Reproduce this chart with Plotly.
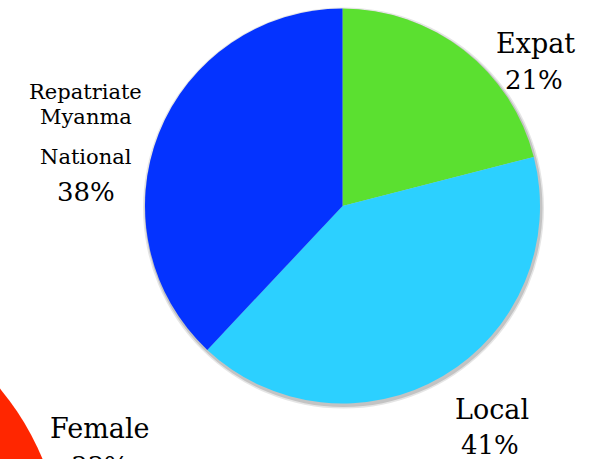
import plotly.graph_objects as go

W, H = 598, 459

labels = ["Expat", "Local", "Repatriate Myanma National"]
values = [21, 41, 38]
colors = ["#5BE030", "#2CD0FF", "#0433FF"]

second_label = "Female"
second_value = 33
second_color = "#FF2600"

def px(x):
    return x / W

def py(y):
    return 1 - y / H

cx, cy, r = 342.5, 206, 197.5

fig = go.Figure()
fig.add_trace(go.Pie(
    labels=labels,
    values=values,
    marker=dict(colors=colors, line=dict(width=0)),
    sort=False,
    direction="clockwise",
    rotation=0,
    textinfo="none",
    hoverinfo="skip",
    showlegend=False,
    domain=dict(x=[px(cx - r), px(cx + r)], y=[py(cy + r), py(cy - r)]),
))

shapes = []
# soft shadow behind main pie
for d, op in [(3, 0.10), (1.5, 0.15)]:
    shapes.append(dict(type="circle", xref="paper", yref="paper", layer="below",
                       x0=px(cx - r - d + 1), x1=px(cx + r + d + 1),
                       y0=py(cy + r + d + 2), y1=py(cy - r - d + 2),
                       fillcolor="rgba(0,0,0,1)", opacity=op, line=dict(width=0)))
# partially visible second pie (Female slice)
rcx, rcy, rr = -214, 566, 278
shapes.append(dict(type="circle", xref="paper", yref="paper", layer="above",
                   x0=px(rcx - rr), x1=px(rcx + rr),
                   y0=py(rcy + rr), y1=py(rcy - rr),
                   fillcolor=second_color, line=dict(width=0)))

font_big = dict(family="DejaVu Serif", size=27, color="black")
font_small = dict(family="DejaVu Serif", size=21, color="black")
font_pct = dict(family="DejaVu Serif", size=26, color="black")

ann = []
def add(text, x, y, font):
    ann.append(dict(text=text, x=px(x), y=py(y), xref="paper", yref="paper",
                    showarrow=False, xanchor="center", yanchor="middle", font=font))

add("Expat", 535, 44, font_big)
add(f"{values[0]}%", 534, 80, font_pct)
add("Local", 492, 409, font_big)
add(f"{values[1]}%", 490, 445, font_pct)
add("Repatriate", 86, 92, font_small)
add("Myanma", 86, 117, font_small)
add("National", 86, 157, font_small)
add(f"{values[2]}%", 86, 192, font_pct)
add(second_label, 100, 428, font_big)
add(f"{second_value}%", 100, 466, font_pct)

fig.update_layout(
    width=W, height=H,
    margin=dict(l=0, r=0, t=0, b=0),
    paper_bgcolor="white", plot_bgcolor="white",
    shapes=shapes, annotations=ann,
)

fig.write_html("out.html")
